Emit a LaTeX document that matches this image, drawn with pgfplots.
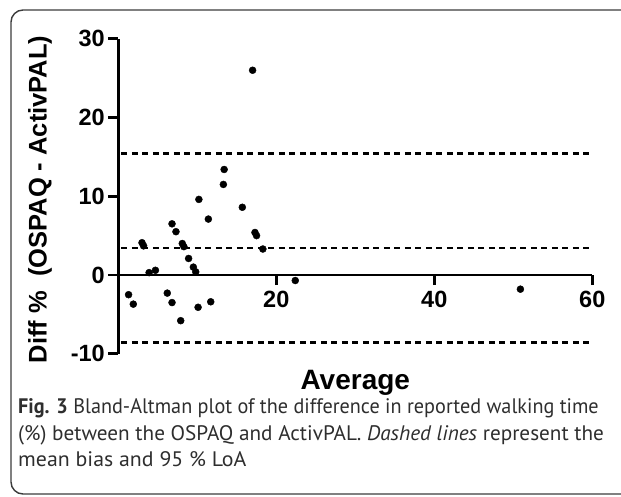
\documentclass[border=0pt]{standalone}
\usepackage{fontspec}
\setmainfont{Liberation Sans}
\newfontfamily\capfont{PT Sans}
\usepackage{pgfplots}
\pgfplotsset{compat=1.18}
\definecolor{framegray}{HTML}{3C3C3C}
\definecolor{captext}{HTML}{2E2E2E}
\begin{document}
\begin{tikzpicture}[x=1pt,y=1pt]
\useasboundingbox (0,0) rectangle (621,496);
\begin{scope}
  \clip (0,0) rectangle (621,496);
  \draw[line width=1.4pt, framegray, rounded corners=12pt] (11,2) rectangle (680,486);
\end{scope}

\begin{axis}[
  at={(118.3pt,221pt)}, anchor=origin,
  scale only axis, width=474pt, height=315pt,
  xmin=0, xmax=60, ymin=-10, ymax=30,
  axis x line=middle, axis y line=left,
  axis line style={-, line width=2.8pt, black},
  xtick={20,40,60}, ytick={-10,0,10,20,30},
  tick align=outside, major tick length=10pt,
  tick style={line width=2.8pt, black},
  /pgf/number format/assume math mode=true,
  ticklabel style={font=\fontsize{23.5}{23.5}\selectfont\bfseries},
  xticklabel style={yshift=-3pt},
  xlabel={Average},
  xlabel style={at={(axis description cs:0.5,0)}, anchor=north, yshift=-13pt,
    font=\fontsize{28}{28}\selectfont\bfseries},
  ylabel={Diff \%\ \ (OSPAQ - ActivPAL)},
  ylabel style={at={(axis description cs:-0.165,0.49)}, anchor=center,
    font=\fontsize{25.5}{25.5}\selectfont\bfseries},
  clip=false,
]
% mean bias and 95 % limits of agreement
\addplot[black, line width=2.5pt, dash pattern=on 6pt off 4.5pt] coordinates {(0.4,15.4) (60,15.4)};
\addplot[black, line width=2.5pt, dash pattern=on 6pt off 4.5pt] coordinates {(0.4,3.4) (60,3.4)};
\addplot[black, line width=2.5pt, dash pattern=on 6pt off 4.5pt] coordinates {(0.4,-8.6) (60,-8.6)};
\addplot[only marks, mark=*, mark size=3.5pt, black] coordinates {
  (1.3,-2.5) (1.9,-3.7) (3.0,4.1) (3.2,3.7) (3.9,0.3) (4.7,0.6)
  (6.2,-2.3) (6.8,-3.5) (6.8,6.5) (7.3,5.5) (7.9,-5.8) (8.1,4.0)
  (8.3,3.6) (8.9,2.1) (9.5,1.0) (9.8,0.4) (10.1,-4.1) (10.2,9.6)
  (11.4,7.1) (11.7,-3.4) (13.3,11.5) (13.4,13.4) (15.7,8.6) (17.0,26.0)
  (17.3,5.4) (17.5,5.0) (18.3,3.3) (22.4,-0.7) (50.9,-1.8)
};
\end{axis}

\begin{scope}[captext, font=\capfont\fontsize{21}{21}\selectfont]
  \node[anchor=base west, inner sep=0pt, xscale=0.962] at (18,83) {{\bfseries Fig. 3} Bland-Altman plot of the difference in reported walking time};
  \node[anchor=base west, inner sep=0pt, xscale=1.01] at (18,56) {(\%) between the OSPAQ and ActivPAL. \emph{Dashed lines} represent the};
  \node[anchor=base west, inner sep=0pt, xscale=1.04] at (18,30) {mean bias and 95 \% LoA};
\end{scope}
\end{tikzpicture}
\end{document}
